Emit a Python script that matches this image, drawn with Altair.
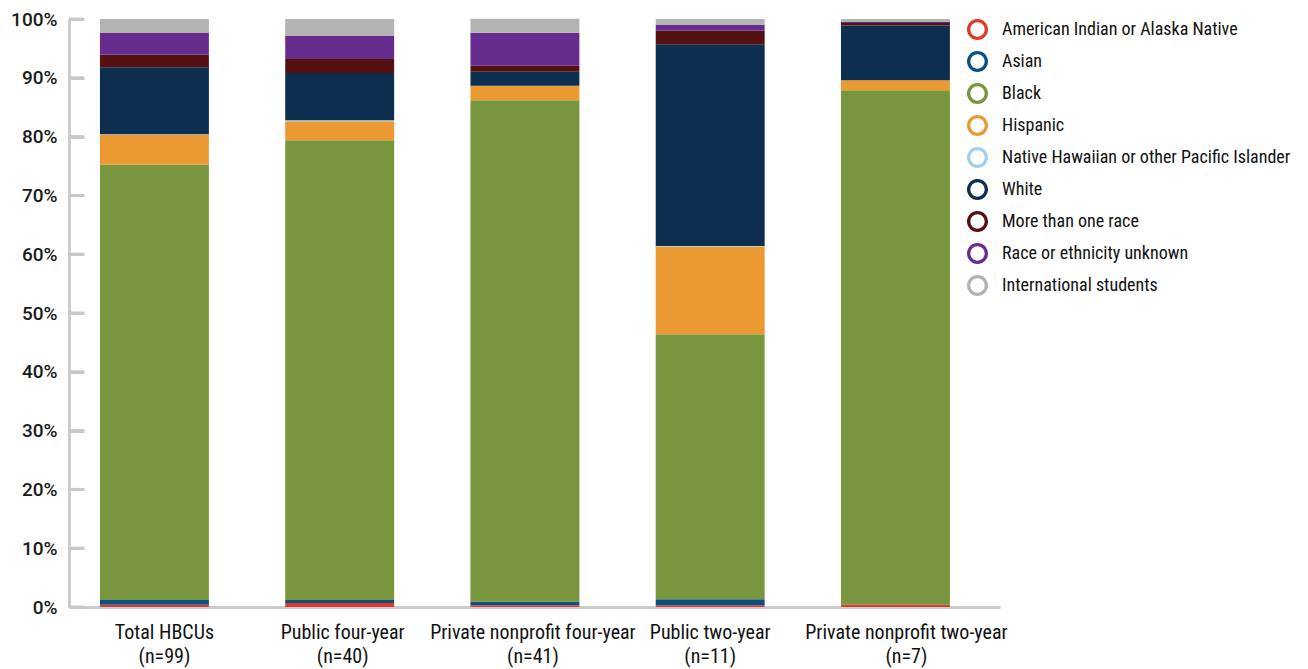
import altair as alt
import pandas as pd

categories = ["Total HBCUs", "Public four-year", "Private nonprofit four-year",
              "Public two-year", "Private nonprofit two-year"]
n_values = [99, 40, 41, 11, 7]

races = ["American Indian or Alaska Native", "Asian", "Black", "Hispanic",
         "Native Hawaiian or other Pacific Islander", "White",
         "More than one race", "Race or ethnicity unknown", "International students"]
colors = ["#e0392b", "#0a5087", "#77963e", "#eb9a33", "#a6cfee",
          "#0d2e4f", "#551111", "#662d8f", "#b3b3b3"]

aian = [0.4, 0.7, 0.3, 0.3, 0.4]
asian = [0.8, 0.5, 0.6, 1.0, 0.0]
black = [74.0, 78.2, 85.3, 45.1, 87.5]
hispanic = [5.1, 3.2, 2.4, 14.9, 1.7]
nhpi = [0.1, 0.2, 0.05, 0.1, 0.0]
white = [11.4, 8.0, 2.4, 34.3, 9.3]
multi = [2.1, 2.4, 1.0, 2.3, 0.4]
unknown = [3.7, 3.9, 5.6, 1.0, 0.2]
intl = [2.4, 2.9, 2.4, 1.0, 0.5]

y_ticks = [0, 10, 20, 30, 40, 50, 60, 70, 80, 90, 100]
# small horizontal shifts of the category labels seen in the original
label_shifts = [10, 3, 8, 0, 11]

series = [aian, asian, black, hispanic, nhpi, white, multi, unknown, intl]
rows = []
for ri, (race, vals) in enumerate(zip(races, series)):
    for cat, n, v in zip(categories, n_values, vals):
        rows.append({"label": f"{cat} (n={n})", "race": race, "idx": ri, "value": v})
df = pd.DataFrame(rows)
labels = [f"{c} (n={n})" for c, n in zip(categories, n_values)]

narrow = "Liberation Sans Narrow, Arial Narrow, Roboto Condensed, DejaVu Sans Condensed, sans-serif"
ring = ("M -1 0 A 1 1 0 1 0 1 0 A 1 1 0 1 0 -1 0 Z "
        "M -0.68 0 A 0.68 0.68 0 1 1 0.68 0 A 0.68 0.68 0 1 1 -0.68 0 Z")

label_offset = {
    "condition": [{"test": f"datum.value == '{lab}'", "value": s}
                  for lab, s in zip(labels, label_shifts) if s != 0],
    "value": 0,
}

y_axis = alt.Axis(title=None, values=y_ticks, grid=False, ticks=False, tickSize=0,
                  domainColor="#cccccc", domainWidth=3,
                  labelFont="Roboto", labelFontSize=19, labelFontWeight=500,
                  labelColor="#1a1a1a",
                  labelPadding=12, labelExpr="datum.value + '%'")
# inward-pointing tick marks: a label-less axis shifted 15px into the plot
tick_axis = alt.Axis(title=None, orient="left", offset=-15, values=y_ticks,
                     grid=False, domain=False, labels=False,
                     ticks=True, tickSize=15, tickWidth=3, tickColor="#c8c8c8")
y_scale = alt.Scale(domain=[0, 100], nice=False)

bars = alt.Chart(df).mark_bar().encode(
    x=alt.X("label:N", sort=labels,
            scale=alt.Scale(paddingInner=0.412, paddingOuter=0.2188, align=0.382),
            axis=alt.Axis(title=None, ticks=False, labelAngle=0,
                          domainColor="#cccccc", domainWidth=3,
                          labelFont=narrow, labelFontSize=20, labelColor="#111111",
                          labelLineHeight=24, labelPadding=15, labelLimit=300,
                          labelOffset=label_offset,
                          labelExpr="[slice(datum.label, 0, indexof(datum.label, ' (n=')), slice(datum.label, indexof(datum.label, ' (n=') + 1)]")),
    y=alt.Y("value:Q", stack="zero", scale=y_scale, axis=y_axis),
    color=alt.Color("race:N", scale=alt.Scale(domain=races, range=colors),
                    legend=alt.Legend(
                        title=None, orient="right", offset=-33, padding=0,
                        symbolType=ring, symbolSize=441, symbolStrokeWidth=0,
                        labelFont=narrow, labelFontSize=18, labelColor="#111111",
                        labelLimit=400, labelOffset=14, rowPadding=11)),
    order=alt.Order("idx:Q", sort="ascending"),
)

ticks_df = pd.DataFrame({"tick": y_ticks})
tick_rules = alt.Chart(ticks_df).mark_rule(color="#c8c8c8", strokeWidth=3).encode(
    y=alt.Y("tick:Q", scale=y_scale, axis=tick_axis),
    x=alt.value(0),
    x2=alt.value(15),
)

chart = alt.layer(bars, tick_rules).resolve_axis(y="independent").properties(
    width=931, height=588,
    autosize=alt.AutoSizeParams(type="none"),
    padding={"left": 61, "top": 11, "right": 300, "bottom": 62},
).configure_view(stroke=None)

chart.save("out.html", embed_options={"renderer": "svg", "actions": False})
